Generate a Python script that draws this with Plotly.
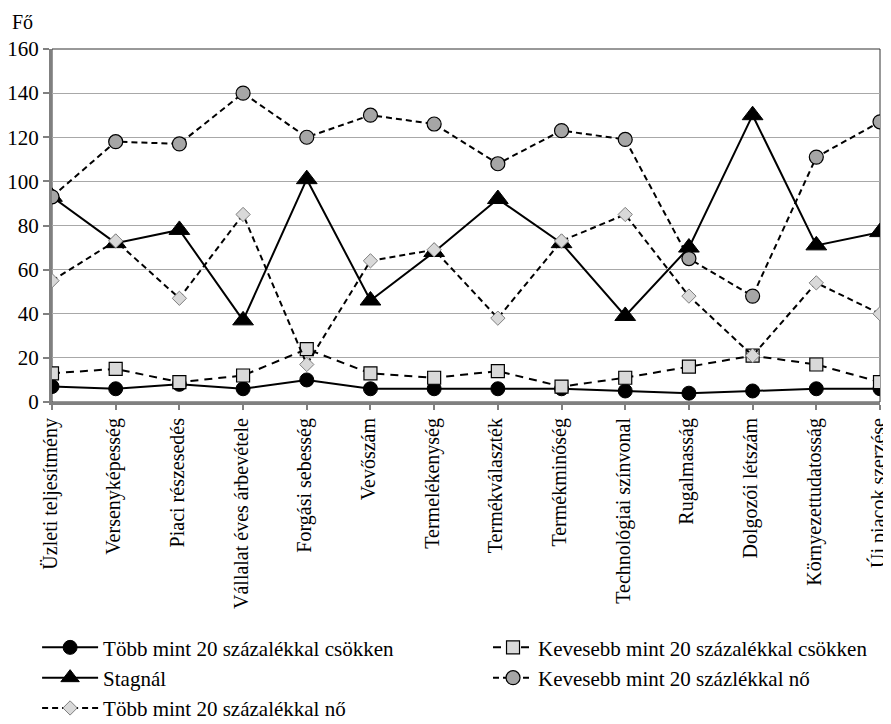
import plotly.graph_objects as go

categories = ["Üzleti teljesítmény", "Versenyképesség", "Piaci részesedés",
              "Vállalat éves árbevétele", "Forgási sebesség", "Vevőszám",
              "Termelékenység", "Termékválaszték", "Termékminőség",
              "Technológiai színvonal", "Rugalmasság", "Dolgozói létszám",
              "Környezettudatosság", "Új piacok szerzése"]

tobb_csokken = [7, 6, 8, 6, 10, 6, 6, 6, 6, 5, 4, 5, 6, 6]
kevesebb_csokken = [13, 15, 9, 12, 24, 13, 11, 14, 7, 11, 16, 21, 17, 9]
stagnal = [93, 72, 78, 37, 101, 46, 68, 92, 72, 39, 70, 130, 71, 77]
kevesebb_no = [93, 118, 117, 140, 120, 130, 126, 108, 123, 119, 65, 48, 111, 127]
tobb_no = [55, 73, 47, 85, 17, 64, 69, 38, 73, 85, 48, 21, 54, 40]

y_ticks = [0, 20, 40, 60, 80, 100, 120, 140, 160]

x = list(range(len(categories)))
FONT = "Liberation Serif"

fig = go.Figure()
fig.add_trace(go.Scatter(
    x=x, y=tobb_csokken, name="Több mint 20 százalékkal csökken",
    legend="legend", legendgroup="g1",
    mode="lines+markers", line=dict(color="black", width=2),
    marker=dict(symbol="circle", size=14, color="black", line=dict(color="black", width=1))))
fig.add_trace(go.Scatter(
    x=x, y=kevesebb_csokken, name="Kevesebb mint 20 százalékkal csökken",
    legend="legend2", legendgroup="g2",
    mode="lines+markers", line=dict(color="black", width=2, dash="8px,6px"),
    marker=dict(symbol="square", size=13, color="#d9d9d9", line=dict(color="black", width=1.2))))
fig.add_trace(go.Scatter(
    x=x, y=stagnal, name="Stagnál",
    legend="legend", legendgroup="g3",
    mode="lines+markers", line=dict(color="black", width=2),
    marker=dict(symbol="triangle-up", size=18, color="black", line=dict(color="black", width=1))))
fig.add_trace(go.Scatter(
    x=x, y=kevesebb_no, name="Kevesebb mint 20 százlékkal nő",
    legend="legend2", legendgroup="g4",
    mode="lines+markers", line=dict(color="black", width=2, dash="6px,4px"),
    marker=dict(symbol="circle", size=14, color="#a6a6a6", line=dict(color="black", width=1.2))))
fig.add_trace(go.Scatter(
    x=x, y=tobb_no, name="Több mint 20 százalékkal nő",
    legend="legend", legendgroup="g5",
    mode="lines+markers", line=dict(color="black", width=2, dash="6px,4px"),
    marker=dict(symbol="diamond", size=11, color="#d9d9d9", line=dict(color="#7f7f7f", width=1))))

fig.add_shape(type="rect", xref="paper", yref="paper", x0=0, y0=0, x1=1, y1=1,
              line=dict(color="#333333", width=1), layer="below")

legend_common = dict(orientation="v", yanchor="top", y=-0.638, xanchor="left",
                     tracegroupgap=7, font=dict(family=FONT, size=21, color="black"),
                     bgcolor="rgba(0,0,0,0)", traceorder="normal")

fig.update_layout(
    width=883, height=716,
    margin=dict(l=44, r=11, t=41, b=322, autoexpand=False),
    paper_bgcolor="white", plot_bgcolor="white",
    font=dict(family=FONT, size=20, color="black"),
    showlegend=True,
    legend=dict(x=-0.018, itemwidth=56, **legend_common),
    legend2=dict(x=0.5266, itemwidth=40, **legend_common),
    annotations=[dict(text="Fő", xref="paper", yref="paper", x=-0.0507, y=1.0765,
                      xanchor="left", yanchor="middle", showarrow=False,
                      font=dict(family=FONT, size=20, color="black"))],
)
fig.update_xaxes(
    range=[0, len(categories) - 1], tickmode="array", tickvals=x, ticktext=categories,
    tickangle=-90, showgrid=False, zeroline=False, automargin=False,
    ticklabeloverflow="allow", ticklabelshift=-2,
    showline=True, linecolor="#808080", linewidth=3,
    ticks="outside", ticklen=5, tickcolor="#808080", tickwidth=2,
    tickfont=dict(family=FONT, size=20, color="black"))
fig.update_yaxes(
    range=[0, 160], tickmode="array", tickvals=y_ticks, automargin=False,
    showgrid=True, gridcolor="#a8a8a8", gridwidth=1, zeroline=False,
    showline=True, linecolor="#808080", linewidth=3,
    ticks="outside", ticklen=6, tickcolor="#808080", tickwidth=2,
    tickfont=dict(family=FONT, size=21, color="black"))

fig.write_html("out.html")
